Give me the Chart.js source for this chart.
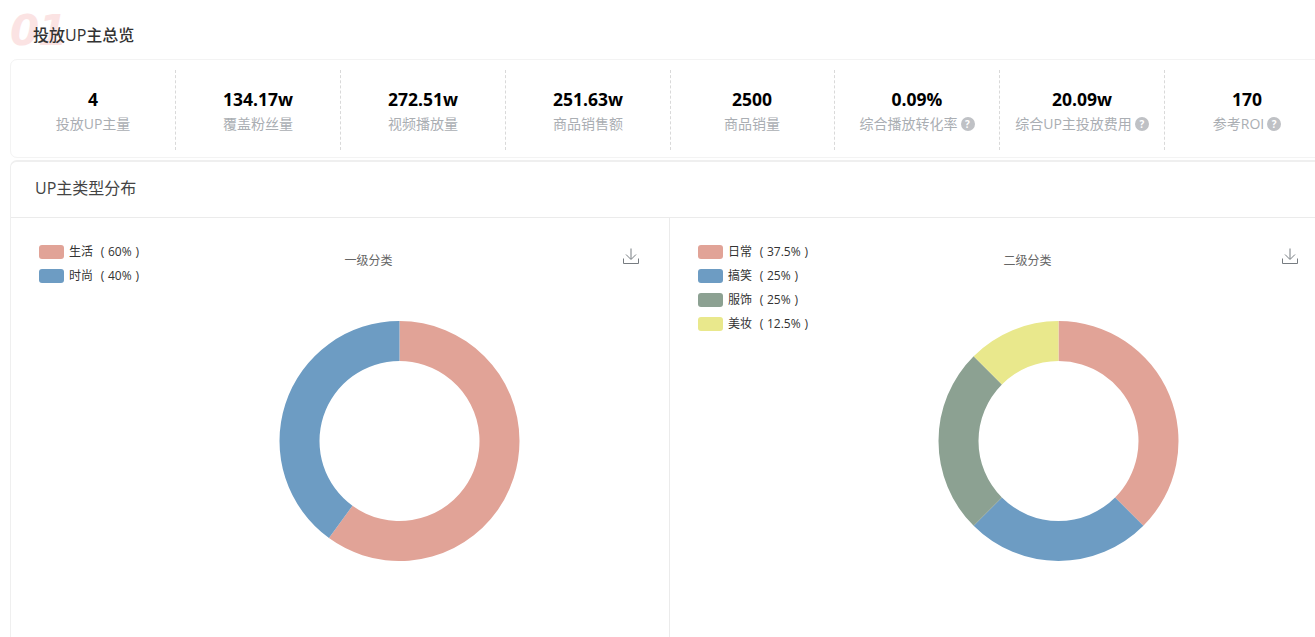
<!DOCTYPE html>
<html lang="zh">
<head>
<meta charset="utf-8">
<script src="https://cdn.jsdelivr.net/npm/chart.js@4"></script>
<style>
html,body{margin:0;padding:0;background:#fff;width:1315px;height:637px;overflow:hidden;font-family:"Open Sans","Noto Sans CJK SC",sans-serif;}
.abs{position:absolute;white-space:nowrap;}
#deco{left:10px;top:8px;font:italic 700 42px/46px "DejaVu Sans",sans-serif;color:#fbe3e3;letter-spacing:-1px;}
#head{left:33px;top:24px;font-size:16px;line-height:22px;color:#333;font-weight:500;}
#card1{left:10px;top:59px;width:1340px;height:99px;border:1px solid #f3f3f3;border-radius:7px;box-sizing:border-box;}
#card2{left:10px;top:160px;width:1340px;height:500px;border:1px solid #efefef;border-top:2px solid #efefef;border-radius:7px;box-sizing:border-box;}
#sub{left:35px;top:178px;font-size:16px;line-height:21px;color:#444;}
#hr{left:11px;top:217px;width:1304px;height:1px;background:#ebebeb;}
#vr{left:669px;top:218px;width:1px;height:419px;background:#ebebeb;}
.div{position:absolute;top:70px;height:80px;width:0;border-left:1px dashed #d9d9d9;}
.val{position:absolute;top:87px;width:164px;text-align:center;font-size:17.5px;line-height:24px;font-weight:700;color:#000;}
.lab{position:absolute;top:113px;width:164px;text-align:center;font-size:14px;line-height:21px;color:#aaaeb3;white-space:nowrap;}
.q{display:inline-block;width:14px;height:14px;border-radius:50%;background:#bfc1c5;color:#fff;font-size:10px;line-height:14px;text-align:center;vertical-align:1px;font-weight:700;margin-left:3px;}
.sw{position:absolute;width:25px;height:14px;border-radius:3px;}
.lg{position:absolute;font-size:12px;line-height:16px;color:#333;white-space:pre;word-spacing:0.7px;}
.ttl{position:absolute;top:252px;font-size:12px;line-height:17px;color:#666;}
canvas{position:absolute;}
svg{position:absolute;}
</style>
</head>
<body>
<div class="abs" id="deco">01</div>
<div class="abs" id="head">投放UP主总览</div>
<div class="abs" id="card1"></div>
<div class="abs" id="card2"></div>
<div class="abs" id="sub">UP主类型分布</div>
<div class="abs" id="hr"></div>
<div class="abs" id="vr"></div>
<div id="stats"></div>
<div id="legends"></div>
<div class="ttl" style="left:344.5px">一级分类</div>
<div class="ttl" style="left:1003.5px">二级分类</div>
<svg style="left:623px;top:248px" width="16" height="16" viewBox="0 0 16 16" fill="none" stroke="#777c81" stroke-width="1"><path d="M8 0.5V11M3 6.5L8 11.5L13 6.5M0.5 10.5V15.5H15.5V10.5"/></svg>
<svg style="left:1282px;top:248px" width="16" height="16" viewBox="0 0 16 16" fill="none" stroke="#777c81" stroke-width="1"><path d="M8 0.5V11M3 6.5L8 11.5L13 6.5M0.5 10.5V15.5H15.5V10.5"/></svg>
<canvas id="c1" style="left:279px;top:321px;width:241px;height:240px"></canvas>
<canvas id="c2" style="left:938px;top:321px;width:241px;height:240px"></canvas>
<script>
const statValues = ["4","134.17w","272.51w","251.63w","2500","0.09%","20.09w","170"];
const statLabels = ["投放UP主量","覆盖粉丝量","视频播放量","商品销售额","商品销量","综合播放转化率","综合UP主投放费用","参考ROI"];
const statHelp = [false,false,false,false,false,true,true,true];
const firstCategories = ["生活","时尚"];
const firstValues = [60,40];
const firstColors = ["#e1a397","#6d9cc3"];
const secondCategories = ["日常","搞笑","服饰","美妆"];
const secondValues = [37.5,25,25,12.5];
const secondColors = ["#e1a397","#6d9cc3","#8ca192","#e9e88c"];

const cellLeft = [11,176,341,506,670,835,1000,1165];
const dividers = [175,340,505,670,834,999,1164];
const stats = document.getElementById('stats');
statValues.forEach((v,i)=>{
  const a=document.createElement('div');a.className='val';a.style.left=cellLeft[i]+'px';a.textContent=v;stats.appendChild(a);
  const b=document.createElement('div');b.className='lab';b.style.left=cellLeft[i]+'px';b.textContent=statLabels[i];
  if(statHelp[i]){const q=document.createElement('span');q.className='q';q.textContent='?';b.appendChild(q);}
  stats.appendChild(b);
});
dividers.forEach(x=>{const d=document.createElement('div');d.className='div';d.style.left=x+'px';stats.appendChild(d);});

function legend(x,cats,vals,cols){
  const host=document.getElementById('legends');
  cats.forEach((c,i)=>{
    const y=245+i*24;
    const s=document.createElement('div');s.className='sw';s.style.cssText=`left:${x}px;top:${y}px;background:${cols[i]}`;host.appendChild(s);
    const t=document.createElement('div');t.className='lg';t.style.left=(x+30)+'px';t.style.top=(y-1)+'px';
    t.textContent=c+'  ( '+vals[i]+'% )';host.appendChild(t);
  });
}
legend(39,firstCategories,firstValues,firstColors);
legend(698,secondCategories,secondValues,secondColors);

function donut(id,cats,vals,cols){
  new Chart(document.getElementById(id),{
    type:'doughnut',
    data:{labels:cats,datasets:[{data:vals,backgroundColor:cols,borderWidth:0}]},
    options:{
      responsive:false,animation:false,cutout:'66.67%',
      layout:{padding:0},
      plugins:{legend:{display:false},title:{display:false},tooltip:{enabled:false}}
    }
  });
}
['c1','c2'].forEach(id=>{const c=document.getElementById(id);c.width=241;c.height=240;});
donut('c1',firstCategories,firstValues,firstColors);
donut('c2',secondCategories,secondValues,secondColors);
</script>
</body>
</html>
